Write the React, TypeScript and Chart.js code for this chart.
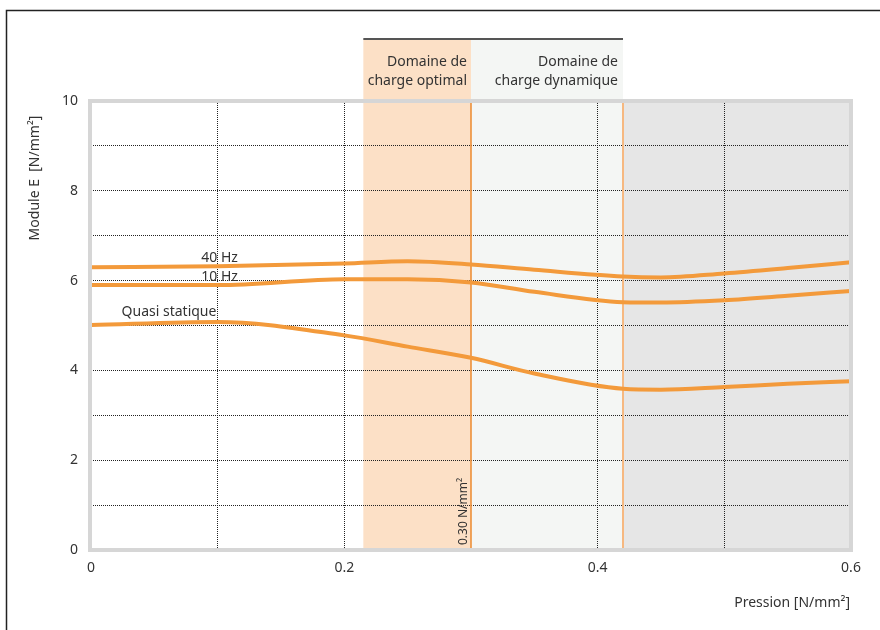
import React, { useEffect, useRef } from "react";
import { Chart, registerables } from "chart.js";

Chart.register(...registerables);

// ---- data ----
const pressure = [0, 0.1, 0.2, 0.25, 0.3, 0.35, 0.42, 0.45, 0.5, 0.55, 0.6];
const hz40 = [6.3, 6.32, 6.38, 6.43, 6.36, 6.24, 6.09, 6.07, 6.16, 6.28, 6.41];
const hz10 = [5.9, 5.9, 6.03, 6.03, 5.96, 5.75, 5.52, 5.51, 5.56, 5.66, 5.77];
const quasi = [5.01, 5.08, 4.78, 4.53, 4.28, 3.93, 3.59, 3.57, 3.63, 3.7, 3.76];
const seriesNames = ["40 Hz", "10 Hz", "Quasi statique"];
const xTickLabels = [0, 0.2, 0.4, 0.6];
const yTickLabels = [0, 2, 4, 6, 8, 10];
const optimalRange = [0.215, 0.3];
const dynamicRange = [0.3, 0.42];
const overloadRange = [0.42, 0.6];
const markerLabel = "0.30 N/mm²";
const headerOptimal = ["Domaine de", "charge optimal"];
const headerDynamic = ["Domaine de", "charge dynamique"];
const yTitle = "Module E  [N/mm²]";
const xTitle = "Pression [N/mm²]";

const FONT = "'Noto Sans', sans-serif";
const ORANGE = "#f39a3b";
const TEXT = "#333333";

const decorPlugin = {
  id: "decor",
  beforeDraw(chart: any) {
    const { ctx, chartArea } = chart;
    const xs = chart.scales.x;
    const { top, bottom, right } = chartArea;
    const headerTop = 39;
    ctx.save();
    // outer frame
    ctx.strokeStyle = "#222";
    ctx.lineWidth = 1.5;
    ctx.strokeRect(6.5, 10.5, 1000, 1000);
    // bands
    const gx0 = xs.getPixelForValue(overloadRange[0]);
    const gx1 = xs.getPixelForValue(overloadRange[1]);
    ctx.fillStyle = "#e6e6e6";
    ctx.fillRect(gx0, top, gx1 - gx0, bottom - top);
    const dx0 = xs.getPixelForValue(dynamicRange[0]);
    const dx1 = xs.getPixelForValue(dynamicRange[1]);
    ctx.fillStyle = "#f4f6f4";
    ctx.fillRect(dx0, headerTop, dx1 - dx0, bottom - headerTop);
    const ox0 = xs.getPixelForValue(optimalRange[0]);
    const ox1 = xs.getPixelForValue(optimalRange[1]);
    ctx.fillStyle = "#fce0c6";
    ctx.fillRect(ox0, headerTop, ox1 - ox0, bottom - headerTop);
    // header top line
    ctx.strokeStyle = "#555";
    ctx.lineWidth = 2;
    ctx.beginPath();
    ctx.moveTo(ox0, headerTop);
    ctx.lineTo(dx1, headerTop);
    ctx.stroke();
    // header texts
    ctx.fillStyle = TEXT;
    ctx.font = `14px ${FONT}`;
    ctx.textAlign = "right";
    ctx.textBaseline = "middle";
    headerOptimal.forEach((t, i) => ctx.fillText(t, ox1 - 4, 62 + i * 19));
    headerDynamic.forEach((t, i) => ctx.fillText(t, dx1 - 5, 62 + i * 19));
    // axis titles
    ctx.font = `14px ${FONT}`;
    ctx.textAlign = "right";
    ctx.fillText(xTitle, right - 1, 603);
    ctx.save();
    ctx.translate(35, 178);
    ctx.rotate(-Math.PI / 2);
    ctx.textAlign = "center";
    ctx.fillText(yTitle, 0, 0);
    ctx.restore();
    ctx.restore();
  },
  beforeDatasetsDraw(chart: any) {
    const { ctx, chartArea } = chart;
    const xs = chart.scales.x;
    const { top, bottom } = chartArea;
    ctx.save();
    const x1 = xs.getPixelForValue(dynamicRange[1]);
    ctx.strokeStyle = "#f6b880";
    ctx.lineWidth = 2;
    ctx.beginPath();
    ctx.moveTo(x1, top);
    ctx.lineTo(x1, bottom);
    ctx.stroke();
    const x0 = xs.getPixelForValue(optimalRange[1]);
    ctx.strokeStyle = "#ec8a2e";
    ctx.lineWidth = 1.5;
    ctx.beginPath();
    ctx.moveTo(x0, top);
    ctx.lineTo(x0, bottom);
    ctx.stroke();
    // rotated marker label
    ctx.translate(x0 - 7, bottom - 5);
    ctx.rotate(-Math.PI / 2);
    ctx.fillStyle = TEXT;
    ctx.font = `12px ${FONT}`;
    ctx.textAlign = "left";
    ctx.textBaseline = "middle";
    ctx.fillText(markerLabel, 0, 0);
    ctx.restore();
  },
  afterDatasetsDraw(chart: any) {
    const { ctx, chartArea } = chart;
    const xs = chart.scales.x;
    const ys = chart.scales.y;
    const { left, top, right, bottom } = chartArea;
    ctx.save();
    ctx.strokeStyle = "#d6d6d6";
    ctx.lineWidth = 4;
    ctx.strokeRect(left - 1, top, right - left + 1, bottom - top);
    // series labels
    ctx.fillStyle = TEXT;
    ctx.font = `14px ${FONT}`;
    ctx.textAlign = "right";
    ctx.textBaseline = "middle";
    const lx = xs.getPixelForValue(0.116);
    ctx.fillText(seriesNames[0], lx, ys.getPixelForValue(6.51));
    ctx.fillText(seriesNames[1], lx, ys.getPixelForValue(6.09));
    ctx.fillText(seriesNames[2], xs.getPixelForValue(0.099), ys.getPixelForValue(5.29));
    ctx.restore();
  },
};

export default function App() {
  const ref = useRef<HTMLCanvasElement | null>(null);
  useEffect(() => {
    if (!ref.current) return;
    const mk = (vals: number[], label: string) => ({
      label,
      data: pressure.map((p, i) => ({ x: p, y: vals[i] })),
      borderColor: ORANGE,
      borderWidth: 4,
      pointRadius: 0,
      fill: false,
      cubicInterpolationMode: "monotone" as const,
    });
    const chart = new Chart(ref.current, {
      type: "line",
      data: {
        datasets: [mk(hz40, seriesNames[0]), mk(hz10, seriesNames[1]), mk(quasi, seriesNames[2])],
      },
      options: {
        animation: false,
        responsive: false,
        devicePixelRatio: 1,
        layout: { padding: { top: 101, right: 29, left: 0, bottom: 0 } },
        plugins: { legend: { display: false }, tooltip: { enabled: false } },
        scales: {
          x: {
            type: "linear",
            min: 0,
            max: 0.6,
            afterFit: (s: any) => {
              s.height = 80;
            },
            border: { display: false, dash: [1, 1] },
            grid: {
              drawTicks: false,
              lineWidth: 1,
              color: (c: any) => {
                const v = Math.round(c.tick.value * 10) / 10;
                return v === 0 || v === 0.3 || v === 0.6 ? "rgba(0,0,0,0)" : "#222";
              },
            },
            ticks: {
              stepSize: 0.1,
              autoSkip: false,
              maxRotation: 0,
              padding: 10,
              color: TEXT,
              font: { family: FONT, size: 14 },
              callback: (v: any) => {
                const r = Math.round(Number(v) * 10) / 10;
                return xTickLabels.includes(r) ? String(r) : "";
              },
            },
          },
          y: {
            min: 0,
            max: 10,
            afterFit: (s: any) => {
              s.width = 91;
            },
            border: { display: false, dash: [1, 1] },
            grid: {
              drawTicks: false,
              lineWidth: 1,
              color: (c: any) =>
                c.tick.value === 0 || c.tick.value === 10 ? "rgba(0,0,0,0)" : "#222",
            },
            ticks: {
              stepSize: 1,
              autoSkip: false,
              padding: 13,
              color: TEXT,
              font: { family: FONT, size: 14 },
              callback: (v: any) => (yTickLabels.includes(Number(v)) ? String(v) : ""),
            },
          },
        },
      },
      plugins: [decorPlugin],
    });
    return () => chart.destroy();
  }, []);
  return (
    <div style={{ position: "absolute", left: 0, top: 0, width: 880, height: 630, background: "#fff" }}>
      <canvas ref={ref} width={880} height={630} style={{ width: 880, height: 630 }} />
    </div>
  );
}
